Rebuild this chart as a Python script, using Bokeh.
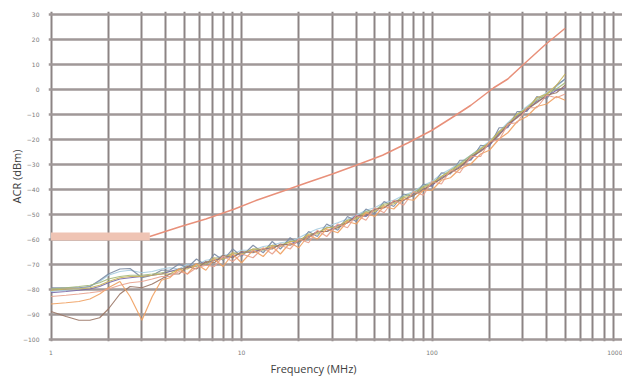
from bokeh.plotting import figure
from bokeh.models import FixedTicker, Range1d, Title, NumeralTickFormatter
from bokeh.embed import file_html
from bokeh.resources import INLINE

# ---------------- data ----------------
FREQ = [1, 1.2, 1.4, 1.6, 1.8, 2, 2.3, 2.6, 3, 3.4, 3.8, 4.2, 4.7, 5.2, 5.8, 6.5, 7.2, 8, 9, 10,
        11.5, 13, 14.5, 16, 18, 20, 22.5, 25, 28, 32, 36, 40, 45, 50, 56, 63, 71, 80, 90, 100,
        112, 125, 140, 160, 180, 200, 225, 250, 280, 315, 355, 400, 450, 500]

TRACE_A = [-79.5, -79.5, -79.5, -79, -76.5, -74, -72, -71.8, -75.5, -74.5, -72.5,
           -72.5, -70, -71.5, -68, -70.5, -66, -68.5, -64, -67, -62.5, -65.5, -61, -64, -59.5,
           -62, -57, -59, -54, -56.5, -51, -53, -48, -50, -45, -47, -42, -43, -38, -39,
           -33.5, -34, -28.5, -28.5, -22.5, -23, -15.5, -15.5, -9, -9, -3, -4, 1.5, 4]
TRACE_B = [-83, -82.5, -82, -81.5, -81, -80, -78.5, -77.5, -77, -76, -75,
           -75, -73, -74, -71.5, -70.5, -71, -67, -69, -66, -67.5, -63.5, -66, -62.5, -64,
           -60, -61.5, -56.5, -59, -54, -55.5, -50.5, -52.5, -47.5, -49.5, -44.5, -46.5, -41, -42.5, -37,
           -38, -32.5, -33.5, -27, -27, -21, -20.5, -14, -13.5, -7.5, -7.5, -2.5, -3.5, -2]
TRACE_C = [-89, -91, -92.5, -92.5, -91.5, -88, -82, -79, -79.5, -78, -76,
           -74, -74, -71, -72, -69, -69.5, -66.5, -67.5, -65, -65.5, -64, -64, -62, -62.5,
           -61, -59.5, -57, -57, -55.5, -53.5, -51, -50.5, -48, -47.5, -45, -44.5, -42.5, -40.5, -38,
           -36, -33.5, -31.5, -27, -25, -22, -18.5, -14, -11.5, -8, -5.5, -2.5, -1.5, 1.5]
TRACE_D = [-86, -85.5, -85, -84, -82, -79.5, -77, -83, -92.5, -83, -76.5,
           -75.5, -72, -74, -70, -72.5, -68, -71, -66, -69.5, -64.5, -67, -63, -66, -61.5,
           -63.5, -58.5, -60, -56, -57.5, -53, -54, -49.5, -51, -47, -48, -44, -44.5, -40.5, -40.5,
           -36.5, -35.5, -32, -30, -26, -24.5, -20, -17.5, -13, -11, -7, -6, -3, -4.5]
TRACE_E = [-81, -80.5, -80, -79, -77, -74.5, -73, -72.5, -73.5, -73, -72,
           -71.5, -72, -70, -70.5, -68.5, -68, -66.5, -66, -64.5, -64.5, -63, -62.5, -61.5, -61,
           -59.5, -57.5, -56, -55, -53.5, -52, -50.5, -48.5, -47.5, -45.5, -44.5, -42.5, -41, -38.5, -37,
           -34, -32, -29.5, -26.5, -23.5, -21, -17, -13.5, -10, -7, -4, -1.5, 1, 4]
TRACE_F = [-80, -79.5, -79, -78.5, -77.5, -76, -75, -74.5, -74.5, -74, -73.5,
           -73, -72.5, -71, -71, -69.5, -68.5, -68, -66, -66, -64, -64.5, -63, -62.5, -61,
           -60.5, -58.5, -57.5, -55.5, -55, -52.5, -51.5, -49, -48.5, -46, -45.5, -43, -41.5, -39, -37.5,
           -35, -32.5, -30, -26.5, -24, -21.5, -17.5, -14, -10.5, -7.5, -4.5, -2, 0, 2.5]
TRACE_G = [-81.5, -81, -80.5, -80, -79, -77.5, -76, -75.5, -75, -74.5, -74,
           -73, -72, -71.5, -70, -69.5, -68.5, -67.5, -67, -65.5, -65, -64, -63.5, -62.5, -62,
           -60.5, -59, -57, -57, -54.5, -53.5, -50.5, -51, -48, -47.5, -45, -44.5, -42, -40, -38.5,
           -35.5, -33.5, -31, -28, -24.5, -22.5, -18, -15, -11, -8.5, -5, -3, -0.5, 0.5]
TRACE_H = [-80.5, -80, -80, -79.5, -78.5, -77, -75.5, -75, -75, -74.5, -74,
           -74, -72, -72, -70, -70, -67.5, -68, -65.5, -66, -64, -64, -62.5, -63, -61,
           -61, -58, -58, -55.5, -55.5, -52.5, -52, -49.5, -49, -46.5, -46, -43.5, -42.5, -39.5, -38,
           -35, -33, -30.5, -27.5, -24, -21.5, -17, -14.5, -10, -8, -3.5, -2, 1.5, 6]

LIMIT_FREQ = [3.3, 4.8, 6.5, 9.2, 12, 16.3, 22, 30, 40, 55, 75, 100, 130, 160, 210, 250, 300, 390, 500]
LIMIT_DB = [-59, -55, -52, -48, -44.5, -41, -37.5, -34, -30.5, -26.5, -21.5, -16.5, -11, -6.5, 0.4, 4, 9.6, 17.5, 24.3]
BAND_FREQ = [1, 3.3]
BAND_DB = [-59, -59]

X_TICKS = [1, 10, 100, 1000]
Y_TICKS = [30, 20, 10, 0, -10, -20, -30, -40, -50, -60, -70, -80, -90, -100]
X_GRID = [1, 2, 3, 4, 5, 6, 7, 8, 9, 10, 20, 30, 40, 50, 60, 70, 80, 90,
          100, 200, 300, 400, 500, 600, 700, 800, 900, 1000]

TRACES = [
    (TRACE_E, "#a6cce0"),
    (TRACE_A, "#7b8ba3"),
    (TRACE_F, "#a3b878"),
    (TRACE_G, "#7868a8"),
    (TRACE_H, "#c8b45a"),
    (TRACE_C, "#9a7565"),
    (TRACE_D, "#f0a060"),
    (TRACE_B, "#e8a08c"),
]

# ---------------- figure ----------------
p = figure(width=622, height=376, x_axis_type="log",
           x_range=Range1d(0.97, 1000), y_range=Range1d(-101, 31),
           output_backend="svg", toolbar_location=None,
           min_border_left=48, min_border_right=0, min_border_top=11, min_border_bottom=30)
p.outline_line_color = None
p.background_fill_color = "white"
p.border_fill_color = "white"

p.xgrid[0].ticker = FixedTicker(ticks=X_GRID)
p.xgrid[0].grid_line_color = "#8c8484"
p.xgrid[0].grid_line_width = 2
p.ygrid[0].ticker = FixedTicker(ticks=Y_TICKS)
p.ygrid[0].grid_line_color = "#a09898"
p.ygrid[0].grid_line_width = 2.5

p.xaxis.ticker = FixedTicker(ticks=X_TICKS)
p.xaxis.formatter = NumeralTickFormatter(format="0")
p.yaxis.ticker = FixedTicker(ticks=Y_TICKS)
for ax in (p.xaxis[0], p.yaxis[0]):
    ax.axis_line_color = None
    ax.major_tick_line_color = None
    ax.minor_tick_line_color = None
    ax.major_label_text_font_size = "6px"
    ax.major_label_text_color = "#7a7a7a"
    ax.major_label_text_font = "DejaVu Sans"
    ax.major_label_standoff = 3
p.xaxis[0].major_label_standoff = 2
p.yaxis[0].axis_label = "ACR (dBm)"
p.yaxis[0].axis_label_text_font = "Open Sans"
p.yaxis[0].axis_label_text_font_size = "11px"
p.yaxis[0].axis_label_text_font_style = "normal"
p.yaxis[0].axis_label_text_color = "#404040"
p.yaxis[0].axis_label_standoff = -4

# x axis title as a below-title, positioned from the frame's left edge
xt = Title(text="Frequency (MHz)", align="left", offset=222,
           text_font="Open Sans", text_font_size="11px", text_font_style="normal",
           text_color="#404040", standoff=2)
p.add_layout(xt, "below")

# limit band and line
p.line(BAND_FREQ, BAND_DB, line_color="#efc4b4", line_width=8)
p.line(LIMIT_FREQ, LIMIT_DB, line_color="#e8907a", line_width=1.5)

for ys, col in TRACES:
    p.line(FREQ, ys, line_color=col, line_width=1.2, line_alpha=0.9)

open("out.html", "w").write(file_html(p, INLINE))
